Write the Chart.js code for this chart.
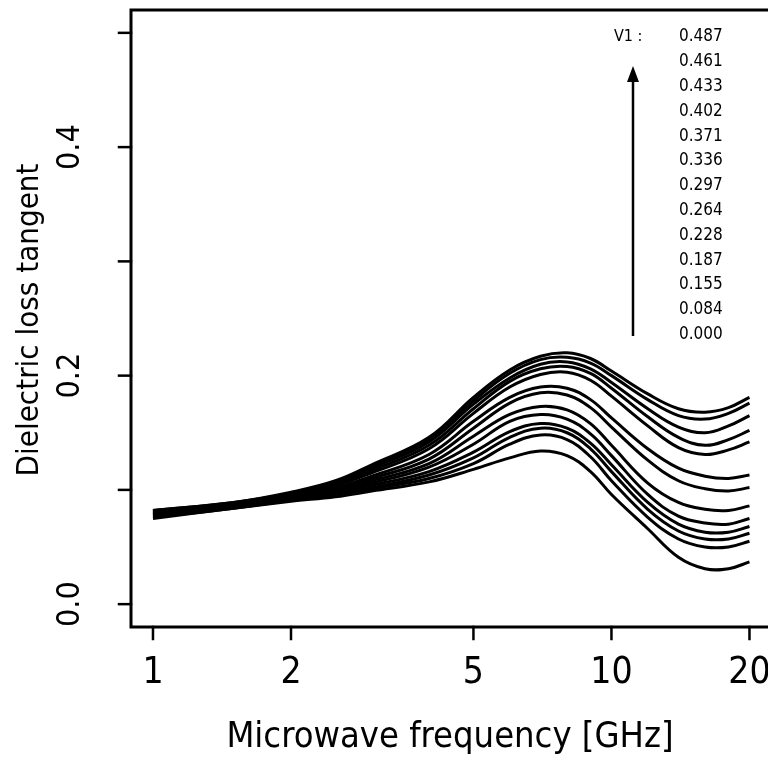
<!DOCTYPE html>
<html>
<head>
<meta charset="utf-8">
<script src="https://cdn.jsdelivr.net/npm/chart.js@4.4.1/dist/chart.umd.min.js"></script>
<style>
  html, body { margin: 0; padding: 0; background: #fff; overflow: hidden; }
</style>
</head>
<body>
<canvas id="graficoPerdas" width="768" height="771"></canvas>
<script>
// frequencias (GHz) onde as curvas foram lidas
const freqGHz = [1, 1.5, 2, 2.5, 3, 4, 5, 6, 7, 8, 9, 10, 12, 14, 16, 18, 20];

// valores de V1 (de cima para baixo na legenda)
const v1Labels = ['0.487', '0.461', '0.433', '0.402', '0.371', '0.336', '0.297',
                  '0.264', '0.228', '0.187', '0.155', '0.084', '0.000'];

// tangente de perda para cada V1
const tan487 = [0.082, 0.089, 0.098, 0.108, 0.122, 0.146, 0.181, 0.205, 0.217, 0.220, 0.215, 0.204, 0.184, 0.171, 0.168, 0.172, 0.181];
const tan461 = [0.082, 0.089, 0.097, 0.107, 0.121, 0.144, 0.178, 0.202, 0.214, 0.216, 0.211, 0.200, 0.179, 0.165, 0.162, 0.167, 0.176];
const tan433 = [0.081, 0.088, 0.097, 0.106, 0.119, 0.142, 0.175, 0.198, 0.210, 0.212, 0.206, 0.194, 0.171, 0.155, 0.150, 0.156, 0.165];
const tan402 = [0.081, 0.088, 0.096, 0.105, 0.117, 0.139, 0.171, 0.195, 0.206, 0.208, 0.202, 0.189, 0.164, 0.146, 0.139, 0.144, 0.152];
const tan371 = [0.080, 0.087, 0.095, 0.104, 0.115, 0.136, 0.167, 0.190, 0.201, 0.203, 0.196, 0.182, 0.156, 0.137, 0.131, 0.135, 0.142];
const tan336 = [0.080, 0.087, 0.095, 0.102, 0.112, 0.131, 0.160, 0.181, 0.190, 0.189, 0.179, 0.163, 0.136, 0.119, 0.112, 0.110, 0.113];
const tan297 = [0.079, 0.087, 0.094, 0.101, 0.110, 0.127, 0.154, 0.176, 0.185, 0.183, 0.172, 0.155, 0.126, 0.108, 0.101, 0.099, 0.102];
const tan264 = [0.079, 0.086, 0.094, 0.100, 0.108, 0.123, 0.147, 0.166, 0.173, 0.170, 0.158, 0.139, 0.106, 0.089, 0.083, 0.082, 0.086];
const tan228 = [0.078, 0.086, 0.093, 0.099, 0.106, 0.120, 0.140, 0.160, 0.166, 0.162, 0.149, 0.130, 0.096, 0.077, 0.071, 0.070, 0.075];
const tan187 = [0.078, 0.085, 0.093, 0.098, 0.104, 0.116, 0.133, 0.151, 0.158, 0.154, 0.141, 0.122, 0.089, 0.070, 0.063, 0.063, 0.068];
const tan155 = [0.077, 0.085, 0.092, 0.097, 0.102, 0.113, 0.128, 0.146, 0.154, 0.150, 0.136, 0.116, 0.083, 0.064, 0.057, 0.057, 0.062];
const tan084 = [0.076, 0.084, 0.091, 0.096, 0.101, 0.110, 0.123, 0.140, 0.148, 0.144, 0.129, 0.108, 0.076, 0.057, 0.050, 0.050, 0.055];
const tan000 = [0.075, 0.084, 0.090, 0.094, 0.099, 0.107, 0.118, 0.128, 0.134, 0.130, 0.116, 0.096, 0.066, 0.041, 0.031, 0.031, 0.037];

const curvas = [tan487, tan461, tan433, tan402, tan371, tan336, tan297,
                tan264, tan228, tan187, tan155, tan084, tan000];

// marcas dos eixos
const xTicks = [1, 2, 5, 10, 20];
const xTickLabels = ['1', '2', '5', '10', '20'];
const yTicks = [0, 0.1, 0.2, 0.3, 0.4, 0.5];
const yTickLabels = ['0.0', '', '0.2', '', '0.4', ''];

const fonte = "'DejaVu Sans Condensed', 'Liberation Sans Narrow', 'DejaVu Sans', sans-serif";

// desenha eixos, rotulos e a anotacao de V1
const eixosPlugin = {
    id: 'eixos',
    afterDraw(chart) {
        const ctx = chart.ctx;
        const area = chart.chartArea;
        const x = chart.scales.x;
        const y = chart.scales.y;
        ctx.save();
        ctx.strokeStyle = '#000';
        ctx.fillStyle = '#000';
        ctx.lineCap = 'square';

        // moldura (esquerda, baixo, topo)
        ctx.lineWidth = 3;
        ctx.beginPath();
        ctx.moveTo(area.right + 5, area.top);
        ctx.lineTo(area.left - 1, area.top);
        ctx.lineTo(area.left - 1, area.bottom);
        ctx.lineTo(area.right + 5, area.bottom);
        ctx.stroke();

        // marcas do eixo y
        ctx.lineWidth = 2.5;
        yTicks.forEach(function (v) {
            const py = y.getPixelForValue(v);
            ctx.beginPath();
            ctx.moveTo(area.left - 13, py);
            ctx.lineTo(area.left - 1, py);
            ctx.stroke();
        });
        // marcas do eixo x
        xTicks.forEach(function (v) {
            const px = x.getPixelForValue(v);
            ctx.beginPath();
            ctx.moveTo(px, area.bottom);
            ctx.lineTo(px, area.bottom + 12);
            ctx.stroke();
        });

        // rotulos do eixo x
        ctx.font = '37px ' + fonte;
        ctx.textAlign = 'center';
        ctx.textBaseline = 'middle';
        xTicks.forEach(function (v, i) {
            ctx.fillText(xTickLabels[i], x.getPixelForValue(v), 673);
        });
        ctx.font = '36px ' + fonte;
        ctx.fillText('Microwave frequency [GHz]', 450, 738);

        // rotulos do eixo y (girados)
        ctx.font = '32px ' + fonte;
        yTicks.forEach(function (v, i) {
            if (!yTickLabels[i]) return;
            ctx.save();
            ctx.translate(71, y.getPixelForValue(v));
            ctx.rotate(-Math.PI / 2);
            ctx.fillText(yTickLabels[i], 0, 0);
            ctx.restore();
        });
        ctx.save();
        ctx.translate(30, 320);
        ctx.rotate(-Math.PI / 2);
        ctx.font = '31px ' + fonte;
        ctx.fillText('Dielectric loss tangent', 0, 0);
        ctx.restore();

        // anotacao V1
        ctx.font = '16px ' + fonte;
        ctx.textAlign = 'left';
        ctx.fillText('V1 :', 614, 37);
        ctx.font = '17px ' + fonte;
        v1Labels.forEach(function (t, i) {
            ctx.fillText(t, 679, 37 + i * 24.8);
        });
        // seta
        ctx.lineWidth = 2.5;
        ctx.lineCap = 'butt';
        ctx.beginPath();
        ctx.moveTo(633, 336);
        ctx.lineTo(633, 78);
        ctx.stroke();
        ctx.beginPath();
        ctx.moveTo(633, 66);
        ctx.lineTo(627, 82);
        ctx.lineTo(639, 82);
        ctx.closePath();
        ctx.fill();

        ctx.restore();
    }
};

const ctx = document.getElementById('graficoPerdas').getContext('2d');
new Chart(ctx, {
    type: 'line',
    data: {
        datasets: curvas.map(function (serie, i) {
            return {
                label: 'V1 = ' + v1Labels[i],
                data: freqGHz.map(function (f, j) { return { x: f, y: serie[j] }; }),
                borderColor: '#000',
                borderWidth: 3,
                pointRadius: 0,
                fill: false,
                tension: 0.4
            };
        })
    },
    options: {
        responsive: false,
        animation: false,
        devicePixelRatio: 1,
        layout: { padding: { left: 132, top: 10, right: 0, bottom: 144 } },
        plugins: {
            legend: { display: false },
            tooltip: { enabled: false }
        },
        scales: {
            x: {
                type: 'logarithmic',
                min: 0.9,
                max: 21.95,
                display: false,
                afterBuildTicks: function (s) { s.ticks = xTicks.map(function (v) { return { value: v }; }); }
            },
            y: {
                type: 'linear',
                min: -0.02,
                max: 0.52,
                display: false,
                afterBuildTicks: function (s) { s.ticks = yTicks.map(function (v) { return { value: v }; }); }
            }
        }
    },
    plugins: [eixosPlugin]
});
</script>
</body>
</html>
